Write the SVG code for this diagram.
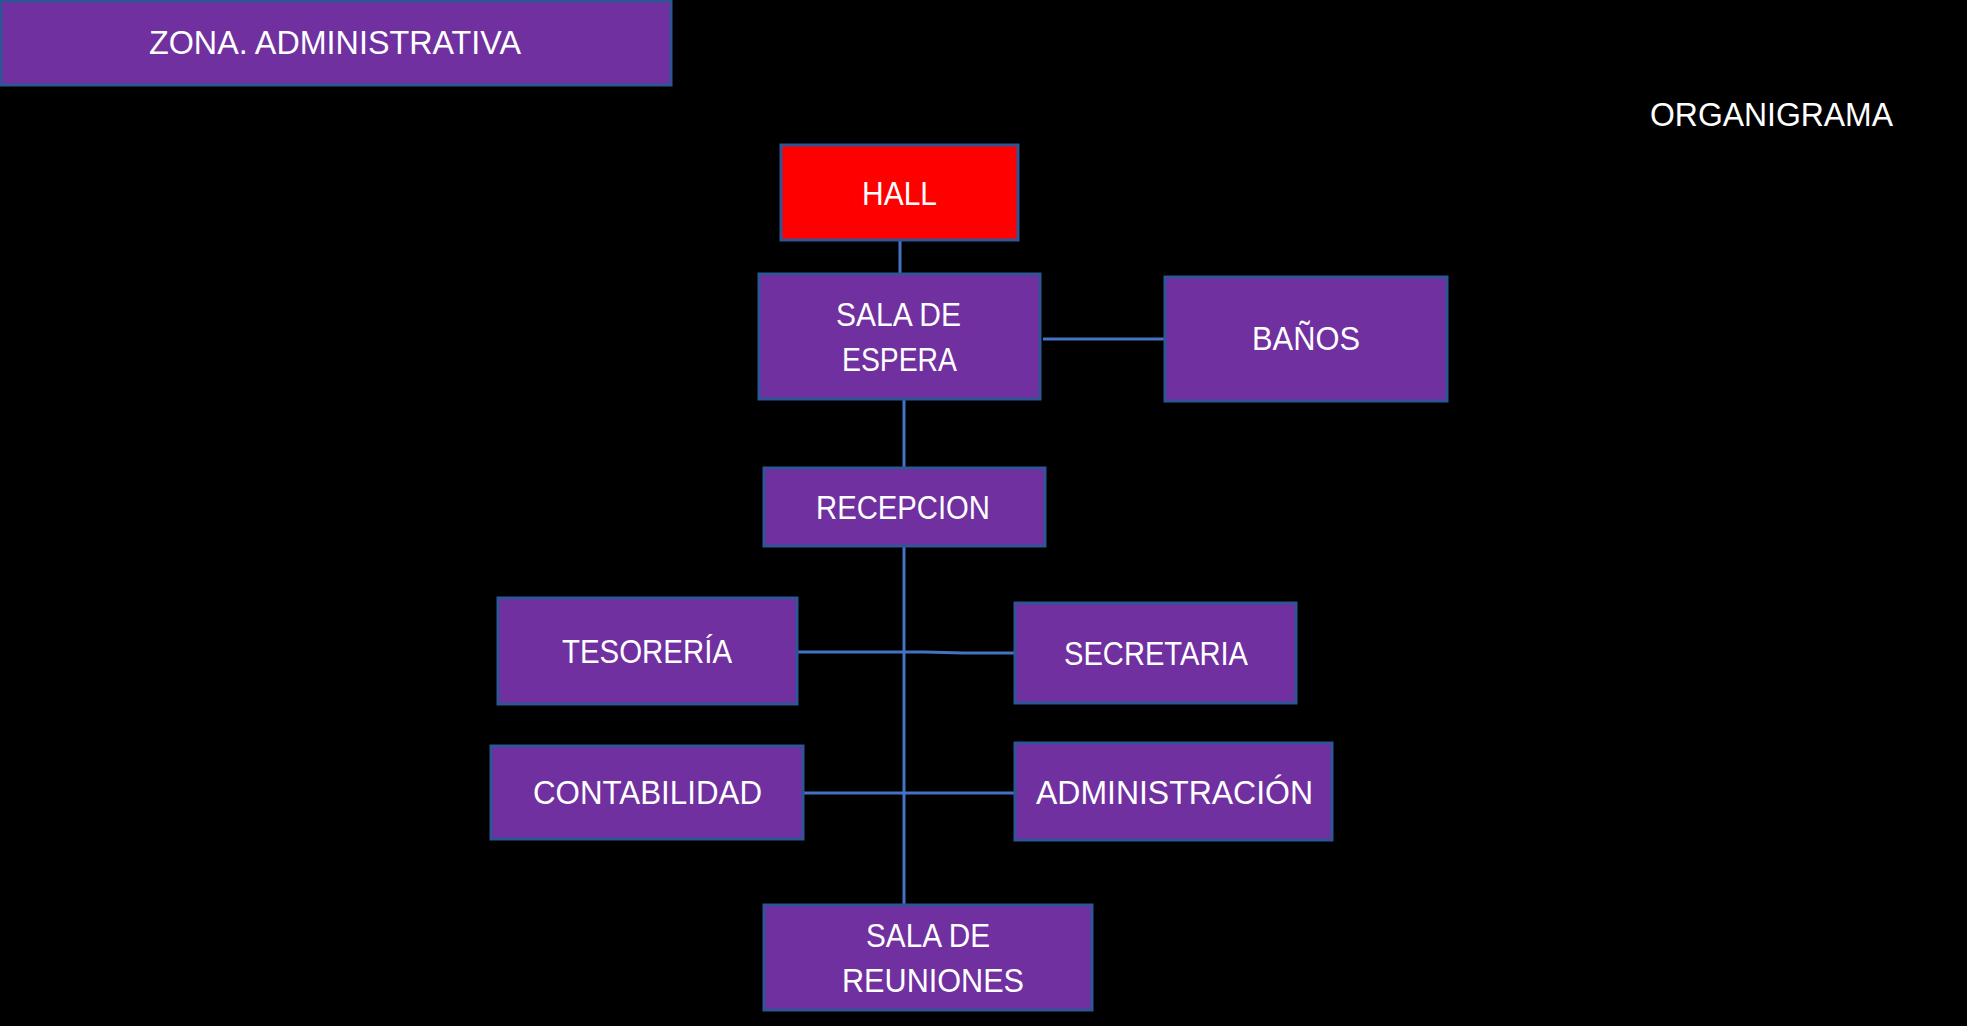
<svg xmlns="http://www.w3.org/2000/svg" width="1967" height="1026" viewBox="0 0 1967 1026">
<style>
.box{fill:#7030A0;stroke:#2F5597;stroke-width:3}
.red{fill:#FF0000;stroke:#2F5597;stroke-width:3}
.t{font-family:"Liberation Sans",Arial,sans-serif;font-size:33px;fill:#FFFFFF}
.ln{stroke:#4472C4;stroke-width:3;fill:none}
</style>
<rect x="0" y="0" width="1967" height="1026" fill="#000000"/>
<g id="connectors">
<line class="ln" x1="900" y1="240" x2="900" y2="274"/>
<line class="ln" x1="1043" y1="339" x2="1165" y2="339"/>
<line class="ln" x1="904" y1="399" x2="904" y2="468"/>
<line class="ln" x1="904" y1="546" x2="904" y2="905"/>
<path class="ln" d="M797 652 H925 L963 653 H1015"/>
<line class="ln" x1="803" y1="793" x2="1015" y2="793"/>
</g>
<g id="zona">
<rect class="box" x="1" y="1" width="670" height="84"/>
<text class="t" x="149" y="54" textLength="372" lengthAdjust="spacingAndGlyphs">ZONA. ADMINISTRATIVA</text>
</g>
<g id="organigrama">
<text class="t" x="1650" y="126" textLength="243" lengthAdjust="spacingAndGlyphs">ORGANIGRAMA</text>
</g>
<g id="hall">
<rect class="red" x="781" y="145" width="237" height="95"/>
<text class="t" x="862" y="205" textLength="75" lengthAdjust="spacingAndGlyphs">HALL</text>
</g>
<g id="sala-espera">
<rect class="box" x="759" y="274" width="281" height="125"/>
<text class="t" x="836" y="326" textLength="125" lengthAdjust="spacingAndGlyphs">SALA DE</text>
<text class="t" x="842" y="371" textLength="115" lengthAdjust="spacingAndGlyphs">ESPERA</text>
</g>
<g id="banos">
<rect class="box" x="1165" y="277" width="282" height="124"/>
<text class="t" x="1252" y="350" textLength="108" lengthAdjust="spacingAndGlyphs">BAÑOS</text>
</g>
<g id="recepcion">
<rect class="box" x="764" y="468" width="281" height="78"/>
<text class="t" x="816" y="519" textLength="174" lengthAdjust="spacingAndGlyphs">RECEPCION</text>
</g>
<g id="tesoreria">
<rect class="box" x="498" y="598" width="299" height="106"/>
<text class="t" x="562" y="663" textLength="170" lengthAdjust="spacingAndGlyphs">TESORERÍA</text>
</g>
<g id="secretaria">
<rect class="box" x="1015" y="603" width="281" height="100"/>
<text class="t" x="1064" y="665" textLength="184" lengthAdjust="spacingAndGlyphs">SECRETARIA</text>
</g>
<g id="contabilidad">
<rect class="box" x="491" y="746" width="312" height="93"/>
<text class="t" x="533" y="804" textLength="229" lengthAdjust="spacingAndGlyphs">CONTABILIDAD</text>
</g>
<g id="administracion">
<rect class="box" x="1015" y="743" width="317" height="97"/>
<text class="t" x="1036" y="804" textLength="277" lengthAdjust="spacingAndGlyphs">ADMINISTRACIÓN</text>
</g>
<g id="sala-reuniones">
<rect class="box" x="764" y="905" width="328" height="105"/>
<text class="t" x="866" y="947" textLength="124" lengthAdjust="spacingAndGlyphs">SALA DE</text>
<text class="t" x="842" y="992" textLength="182" lengthAdjust="spacingAndGlyphs">REUNIONES</text>
</g>
</svg>
